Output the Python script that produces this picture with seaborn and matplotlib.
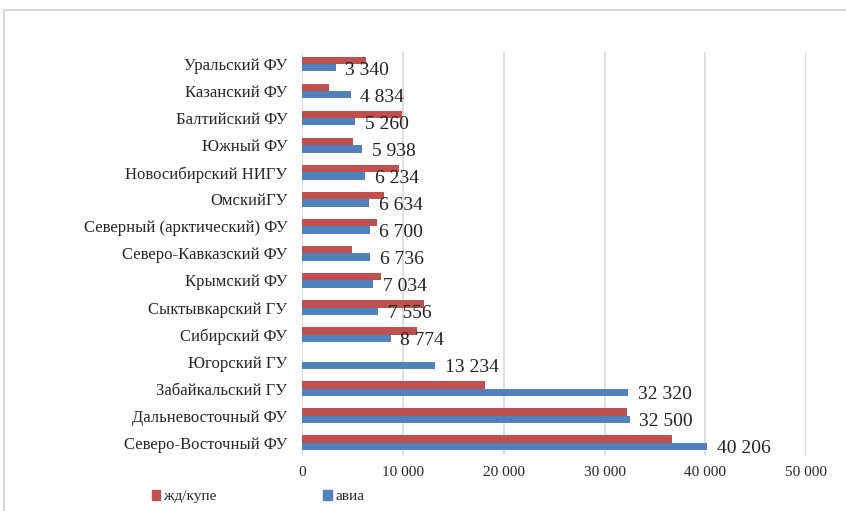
import pandas as pd
import matplotlib.pyplot as plt
import seaborn as sns
from matplotlib.patches import Rectangle

# Data
regions = [
    "Уральский ФУ", "Казанский ФУ", "Балтийский ФУ", "Южный ФУ",
    "Новосибирский НИГУ", "ОмскийГУ", "Северный (арктический) ФУ",
    "Северо-Кавказский ФУ", "Крымский ФУ", "Сыктывкарский ГУ",
    "Сибирский ФУ", "Югорский ГУ", "Забайкальский ГУ",
    "Дальневосточный ФУ", "Северо-Восточный ФУ",
]
rail = [6350, 2700, 9900, 5050, 9600, 8150, 7450, 5000, 7850, 12100,
        11400, 0, 18150, 32250, 36700]
air = [3340, 4834, 5260, 5938, 6234, 6634, 6700, 6736, 7034, 7556,
       8774, 13234, 32320, 32500, 40206]
series = ["жд/купе", "авиа"]
colors = ["#C0504D", "#4F81BD"]
xticks = [0, 10000, 20000, 30000, 40000, 50000]

df = pd.DataFrame({
    "region": regions * 2,
    "value": rail + air,
    "mode": [series[0]] * len(regions) + [series[1]] * len(regions),
})

sns.set_style("white")
plt.rcParams['font.family'] = ['Liberation Serif', 'DejaVu Serif']

fig = plt.figure(figsize=(8.46, 5.11), dpi=100)
ax = fig.add_axes([0.357, 0.110, 0.596, 0.788])

sns.barplot(data=df, y="region", x="value", hue="mode", hue_order=series,
            palette=colors, orient="h", width=0.53, saturation=1,
            linewidth=0, ax=ax, legend=False)

def fmt(v):
    return f"{v:,}".replace(",", " ")

# labels only for the air series
labels = ax.bar_label(ax.containers[1], labels=[fmt(v) for v in air],
                      padding=7, fontsize=14, color="#222222")
for t in labels:
    t.xyann = (7, -2)

ax.set_xlim(0, 50000)
ax.set_ylim(14.45, -0.45)
ax.set_xticks(xticks)
ax.set_xticklabels([fmt(v) for v in xticks], fontsize=11)
ax.tick_params(axis="x", length=0, pad=8)
ax.tick_params(axis="y", length=0, pad=10.5, labelsize=12)
ax.set_xlabel("")
ax.set_ylabel("")
ax.xaxis.grid(True, color="#d9d9d9", lw=1.2)
ax.set_axisbelow(True)
for s in ax.spines.values():
    s.set_visible(False)

# legend below the plot
handles = [Rectangle((0, 0), 1, 1, color=c) for c in colors]
fig.legend(handles, series, loc="lower left", bbox_to_anchor=(0.163, -0.012),
           ncol=2, frameon=False, fontsize=11, handlelength=0.55,
           handleheight=0.55, handletextpad=0.25, columnspacing=7)

# outer chart frame
fig.add_artist(Rectangle((0.005, -0.02), 1.2, 1 - 10 / 511 + 0.02,
                         transform=fig.transFigure, fill=False,
                         edgecolor="#d9d9d9", lw=1.5))

plt.savefig("out.png", dpi=100)
